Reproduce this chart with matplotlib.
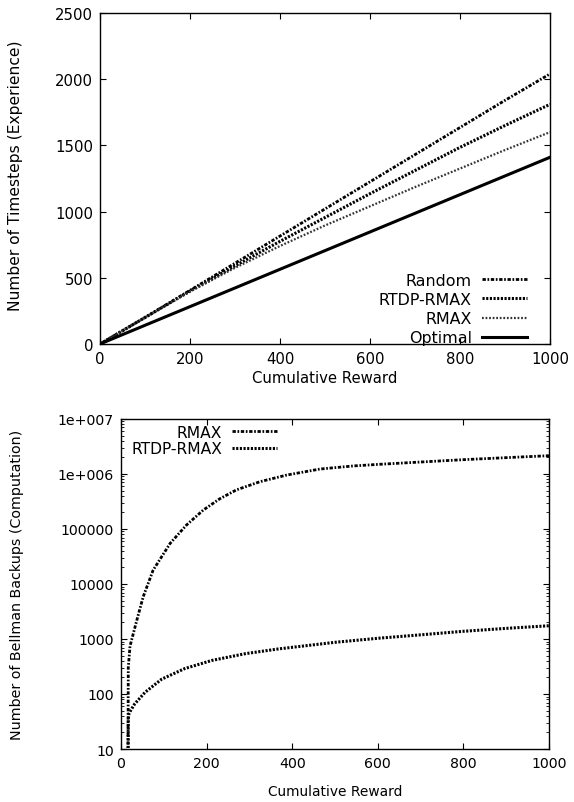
import numpy as np
import matplotlib
matplotlib.use("Agg")
import matplotlib.pyplot as plt
from matplotlib.ticker import FixedLocator, FixedFormatter, LogLocator, NullFormatter

plt.rcParams['font.family'] = ['DejaVu Sans']
plt.rcParams['font.size'] = 10.5

# ---- Top chart data (Timesteps vs Cumulative Reward) ----
top_x = [0, 100, 200, 300, 400, 500, 600, 700, 800, 900, 1000]
random_y = [0, 200, 405, 610, 815, 1020, 1225, 1430, 1635, 1840, 2040]
rtdp_y = [0, 200, 400, 590, 775, 955, 1135, 1310, 1485, 1650, 1810]
rmax_y = [0, 200, 395, 575, 740, 895, 1040, 1185, 1325, 1465, 1600]
optimal_y = [0, 141, 282, 423, 564, 705, 846, 987, 1128, 1269, 1410]

# ---- Bottom chart data (Bellman backups vs Cumulative Reward) ----
bot_rmax_x = [16, 17, 21, 37, 52, 75, 115, 153, 192, 231, 270, 325, 387, 465, 543, 605,
              700, 800, 900, 1000]
bot_rmax_y = [1, 300, 740, 2200, 5900, 17800, 55000, 118000, 220000, 355000, 515000, 725000,
              955000, 1230000, 1400000, 1500000, 1650000, 1820000, 1980000, 2150000]
bot_rtdp_x = [16, 17, 19, 32, 56, 95, 149, 212, 290, 368, 500, 600, 700, 800, 900, 1000]
bot_rtdp_y = [1, 35, 45, 66, 107, 186, 290, 407, 540, 660, 870, 1030, 1190, 1380, 1560, 1740]

bot_yticks = [10, 100, 1000, 10000, 100000, 1000000, 10000000]
bot_ylabels = ["10", "100", "1000", "10000", "100000", "1e+006", "1e+007"]

fig = plt.figure(figsize=(5.74, 8.03), dpi=100)

def style_axes(ax, lsize):
    ax.tick_params(which='both', direction='in', top=True, right=True, labelsize=lsize, pad=5)
    ax.tick_params(which='major', length=4)
    ax.tick_params(which='minor', length=2)
    for s in ax.spines.values():
        s.set_linewidth(1.0)

# Top axes
ax1 = fig.add_axes([0.1742, 0.5704, 0.784, 0.4122])
ax1.plot(top_x, random_y, color='black', lw=2.0, linestyle=(0, (1.2, 0.6, 0.6, 0.6)), label='Random')
ax1.plot(top_x, rtdp_y, color='black', lw=2.2, linestyle=(0, (0.7, 0.5)), label='RTDP-RMAX')
ax1.plot(top_x, rmax_y, color='#333333', lw=1.6, linestyle=(0, (0.8, 0.8)), label='RMAX')
ax1.plot(top_x, optimal_y, color='black', lw=2.2, linestyle='-', label='Optimal')
ax1.set_xlim(0, 1000)
ax1.set_ylim(0, 2500)
ax1.set_xticks([0, 200, 400, 600, 800, 1000])
ax1.set_yticks([0, 500, 1000, 1500, 2000, 2500])
ax1.set_xlabel('Cumulative Reward', fontsize=10.7)
ax1.set_ylabel('Number of Timesteps (Experience)', fontsize=11.2)
ax1.xaxis.set_label_coords(0.5, -0.079)
ax1.yaxis.set_label_coords(-0.172, 0.51)
style_axes(ax1, 10.7)
leg1 = ax1.legend(loc='lower right', bbox_to_anchor=(0.973, -0.038), markerfirst=False, frameon=False,
                  handlelength=2.8, labelspacing=0.27, handletextpad=0.68, borderpad=0.2, fontsize=11.4)

# Bottom axes
ax2 = fig.add_axes([0.2108, 0.0660, 0.7456, 0.4110])
ax2.plot(bot_rmax_x, bot_rmax_y, color='black', lw=2.0, linestyle=(0, (1.2, 0.6, 0.6, 0.6)), label='RMAX')
ax2.plot(bot_rtdp_x, bot_rtdp_y, color='black', lw=2.2, linestyle=(0, (0.7, 0.5)), label='RTDP-RMAX')
ax2.set_yscale('log')
ax2.set_xlim(0, 1000)
ax2.set_ylim(10, 1e7)
ax2.set_xticks([0, 200, 400, 600, 800, 1000])
ax2.yaxis.set_major_locator(FixedLocator(bot_yticks))
ax2.yaxis.set_major_formatter(FixedFormatter(bot_ylabels))
ax2.yaxis.set_minor_locator(LogLocator(base=10, subs=np.arange(2, 10)))
ax2.yaxis.set_minor_formatter(NullFormatter())
ax2.set_xlabel('Cumulative Reward', fontsize=9.9)
ax2.set_ylabel('Number of Bellman Backups (Computation)', fontsize=10.3)
ax2.xaxis.set_label_coords(0.5, -0.106)
ax2.yaxis.set_label_coords(-0.227, 0.50)
style_axes(ax2, 10.2)
leg2 = ax2.legend(loc='upper left', bbox_to_anchor=(-0.002, 1.015), markerfirst=False, frameon=False,
                  handlelength=2.9, labelspacing=0.09, handletextpad=0.65, borderpad=0.2, fontsize=11.2)

fig.savefig('out.png', dpi=100)
